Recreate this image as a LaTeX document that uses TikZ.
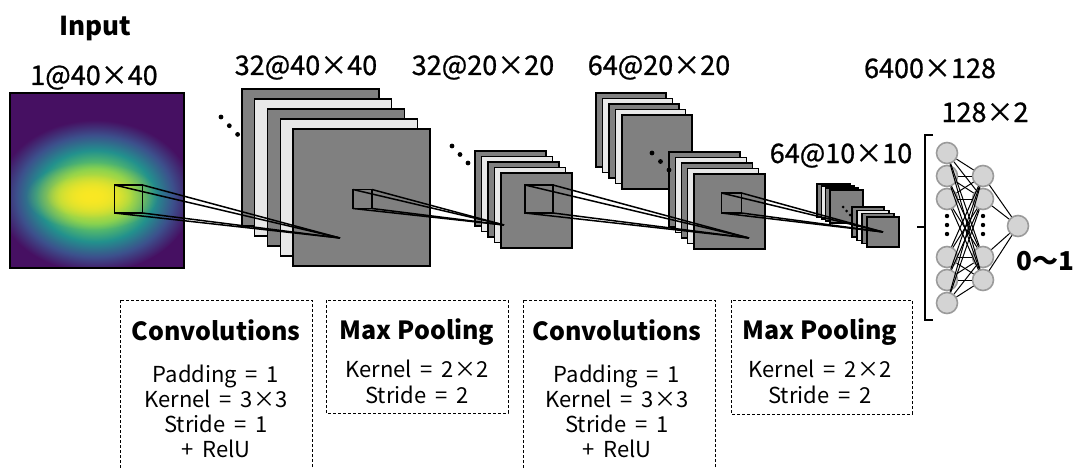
\documentclass[tikz,border=0pt]{standalone}
\usepackage{fontspec}
\setmainfont{Noto Sans CJK JP}
\newfontfamily\labelfont[FakeBold=0.8]{Noto Sans CJK JP}
\usetikzlibrary{fadings}

\definecolor{mapdark}{RGB}{128,128,128}
\definecolor{maplight}{RGB}{232,232,232}
\definecolor{unitfill}{RGB}{212,212,212}
\definecolor{unitline}{RGB}{155,155,155}
\definecolor{vpurple}{RGB}{70,16,98}
\definecolor{vblue}{RGB}{60,80,140}
\definecolor{vteal}{RGB}{34,145,141}
\definecolor{vgreen}{RGB}{110,205,90}
\definecolor{vyellow}{RGB}{250,232,35}

% viridis-like blob for the input map
\pgfdeclareradialshading{heat}{\pgfpointorigin}{color(0bp)=(vgreen!50!vyellow); color(9bp)=(vgreen); color(15bp)=(vteal); color(20bp)=(vblue); color(25bp)=(vpurple); color(50bp)=(vpurple)}
\tikzfading[name=fade core, inner color=transparent!0, outer color=transparent!100]

% wider word spaces for the stage boxes
\newcommand\widespaces{\spaceskip 0.4em\relax}

\tikzset{
  fmap/.style={draw, line width=1.4pt, fill=#1},
  kernel/.style={draw, line width=1.5pt, inner sep=0pt, outer sep=0pt, minimum size=#1},
  proj/.style={line width=1.5pt},
  unit/.style={circle, draw=unitline, fill=unitfill, line width=1.6pt, minimum size=21pt, inner sep=0pt},
  link/.style={line width=1pt},
  dimlbl/.style={font=\labelfont\fontsize{27}{30}\selectfont, inner sep=0pt, anchor=base},
  headlbl/.style={font=\bfseries\fontsize{26}{30}\selectfont, inner sep=0pt, anchor=base},
  boxhead/.style={font=\bfseries\fontsize{25}{30}\selectfont, inner sep=0pt, anchor=base},
  boxline/.style={font={\fontsize{22}{24}\selectfont\widespaces}, inner sep=0pt, anchor=base},
  stage/.style={line width=1pt, dash pattern=on 3pt off 2pt},
}

\begin{document}
\begin{tikzpicture}[x=1pt, y=-1pt]
  \useasboundingbox (0,0) rectangle (1075,468);

  % input map
  \begin{scope}
    \clip (10,93) rectangle (184,268);
    \fill[vpurple] (10,93) rectangle (184,268);
    \shade[shading=heat] (95,196) ellipse (98 and 76);
    \fill[vyellow, path fading=fade core] (92,196) ellipse (66 and 34);
    \fill[vyellow, path fading=fade core] (90,196) ellipse (44 and 22);
  \end{scope}
  \draw[line width=1.6pt] (10,93) rectangle (184,268);
  \node[headlbl] (tinput) at (95,36) {Input};
  \node[dimlbl] (tin) at (94,85) {1@40×40};

  % conv 1 : 32@40x40
  \foreach \i/\c in {0/mapdark,1/maplight,2/mapdark,3/maplight,4/mapdark}
    \draw[fmap=\c] (242+12.75*\i,89+10*\i) rectangle ++(137,137);
  \foreach \i in {0,1,2} \fill (221+8.3*\i,117+8.7*\i) circle (2.4);
  \node[dimlbl] (tc1) at (306,75) {32@40×40};

  % pool 1 : 32@20x20
  \foreach \i/\c in {0/mapdark,1/maplight,2/mapdark,3/maplight,4/mapdark}
    \draw[fmap=\c] (475+6.5*\i,151+5.5*\i) rectangle ++(71,75);
  \foreach \i in {0,1,2} \fill (452+8*\i,146+8.5*\i) circle (2.4);
  \node[dimlbl] (tp1) at (483,75) {32@20×20};

  % conv 2 : 64@20x20
  \foreach \i/\c in {0/mapdark,1/maplight,2/mapdark,3/maplight,4/mapdark}
    \draw[fmap=\c] (596+6.5*\i,93+5.5*\i) rectangle ++(70,74);
  \foreach \i/\c in {0/mapdark,1/maplight,2/mapdark,3/maplight,4/mapdark}
    \draw[fmap=\c] (669+6.25*\i,152+5.5*\i) rectangle ++(71,75);
  \foreach \i in {0,1,2} \fill (652+8.5*\i,153+8.5*\i) circle (2.4);
  \node[dimlbl] (tc2) at (659,75) {64@20×20};

  % pool 2 : 64@10x10
  \foreach \i/\c in {0/mapdark,1/maplight,2/mapdark,3/mapdark}
    \draw[fmap=\c, line width=1.2pt] (817+4.3*\i,184+2*\i) rectangle ++(33,33);
  \foreach \i/\c in {0/mapdark,1/maplight,2/mapdark,3/mapdark}
    \draw[fmap=\c, line width=1.2pt] (852+5*\i,207+3.3*\i) rectangle ++(32,30);
  \foreach \i in {0,1,2} \fill (843+3.5*\i,207+4*\i) circle (1.5);
  \node[dimlbl] (tp2) at (841,163) {64@10×10};

  % receptive fields
  \node[kernel=28pt] (k0) at (128.5,199) {};
  \node[kernel=19pt] (k1) at (362.5,199) {};
  \node[kernel=28pt] (k2) at (539,199) {};
  \node[kernel=20pt] (k3) at (731.5,203) {};
  \coordinate (a0) at (340,238);
  \coordinate (a1) at (504,225);
  \coordinate (a2) at (749,238);
  \coordinate (a3) at (883,232);
  \foreach \k in {0,...,3}
    \foreach \c in {north west,north east,south west,south east}
      \draw[proj] (k\k.\c) -- (a\k);

  % fully connected part
  \draw[line width=1.6pt] (933,135) -- (925,135) -- (925,320) -- (933,320);
  \draw[line width=1.6pt] (925,227) -- (917,227);
  \foreach \y [count=\i] in {153,176,199,257,280,303}
    \node[unit] (n\i) at (947,\y) {};
  \foreach \y [count=\j] in {176,199,257,280}
    \node[unit] (m\j) at (983,\y) {};
  \node[unit] (out) at (1018,226) {};
  \foreach \i in {1,...,6}
    \foreach \j in {1,...,4}
      \draw[link] (n\i) -- (m\j);
  \foreach \j in {1,...,4} \draw[link] (m\j) -- (out);
  \foreach \x in {947,983}
    \foreach \y in {216,225,234} \fill (\x,\y) circle (2.2);
  \node[dimlbl] (tfc1) at (930,78) {6400×128};
  \node[dimlbl] (tfc2) at (985,122) {128×2};
  \node[headlbl] (tout) at (1045,270) {0～1};

  % stage boxes
  \draw[stage] (120,300) rectangle (312,480);
  \draw[stage] (326,300) rectangle (508,413);
  \draw[stage] (523,300) rectangle (715,480);
  \draw[stage] (731,300) rectangle (912,414);
  \node[boxhead] (s1) at (216,340) {Convolutions};
  \foreach \t [count=\i] in {Padding = 1, Kernel = 3×3, Stride = 1, + RelU}
    \node[boxline] (s1l\i) at (216,357+25*\i) {\t};
  \node[boxhead] (s2) at (417,339) {Max Pooling};
  \foreach \t [count=\i] in {Kernel = 2×2, Stride = 2}
    \node[boxline] (s2l\i) at (417,351+26*\i) {\t};
  \node[boxhead] (s3) at (617,340) {Convolutions};
  \foreach \t [count=\i] in {Padding = 1, Kernel = 3×3, Stride = 1, + RelU}
    \node[boxline] (s3l\i) at (617,357+25*\i) {\t};
  \node[boxhead] (s4) at (820,339) {Max Pooling};
  \foreach \t [count=\i] in {Kernel = 2×2, Stride = 2}
    \node[boxline] (s4l\i) at (820,351+26*\i) {\t};
\end{tikzpicture}
\end{document}
